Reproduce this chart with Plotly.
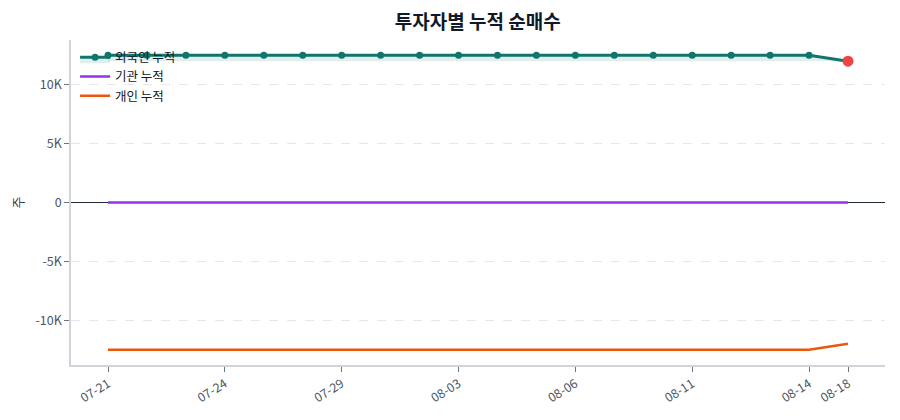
import plotly.graph_objects as go

dates = ["07-21", "07-22", "07-23", "07-24", "07-25", "07-28", "07-29", "07-30",
         "07-31", "08-03", "08-04", "08-05", "08-06", "08-07", "08-08", "08-11",
         "08-12", "08-13", "08-14", "08-18"]
foreign = [12500, 12500, 12500, 12500, 12500, 12500, 12500, 12500, 12500, 12500,
           12500, 12500, 12500, 12500, 12500, 12500, 12500, 12500, 12500, 12000]
institution = [0, 0, 0, 0, 0, 0, 0, 0, 0, 0, 0, 0, 0, 0, 0, 0, 0, 0, 0, 0]
individual = [-12500, -12500, -12500, -12500, -12500, -12500, -12500, -12500, -12500, -12500,
              -12500, -12500, -12500, -12500, -12500, -12500, -12500, -12500, -12500, -12000]
baseline = [12000] * len(dates)
x_tick_labels = ["07-21", "07-24", "07-29", "08-03", "08-06", "08-11", "08-14", "08-18"]
y_tick_vals = [-10000, -5000, 0, 5000, 10000]
y_tick_text = ["-10K", "-5K", "0", "5K", "10K"]

FONT = "Noto Sans CJK KR"
TEAL = "#0f766e"
PURPLE = "#9333ea"
ORANGE = "#ea580c"
RED = "#ef4444"

fig = go.Figure()
fig.add_trace(go.Scatter(x=dates, y=baseline, mode="lines", line=dict(width=0, color=TEAL),
                         showlegend=False, hoverinfo="skip"))
fig.add_trace(go.Scatter(x=dates, y=foreign, mode="lines+markers", name="외국인 누적",
                         line=dict(color=TEAL, width=3), marker=dict(color=TEAL, size=7),
                         fill="tonexty", fillcolor="rgba(15,118,110,0.12)"))
fig.add_trace(go.Scatter(x=dates, y=institution, mode="lines", name="기관 누적",
                         line=dict(color=PURPLE, width=2.5)))
fig.add_trace(go.Scatter(x=dates, y=individual, mode="lines", name="개인 누적",
                         line=dict(color=ORANGE, width=2.5)))
fig.add_trace(go.Scatter(x=[dates[-1]], y=[foreign[-1]], mode="markers", showlegend=False,
                         marker=dict(color=RED, size=11)))

fig.update_layout(
    width=900, height=420,
    margin=dict(l=63, r=23, t=32, b=63),
    paper_bgcolor="white", plot_bgcolor="white",
    font=dict(family=FONT, size=12, color="#374151"),
    title=dict(text="<b>투자자별 누적 순매수</b>", x=0.522, xanchor="center", y=0.967,
               yanchor="middle", font=dict(family=FONT, size=19, color="#111827"),
               automargin=False),
    legend=dict(x=0.005, y=0.992, xanchor="left", yanchor="top", bgcolor="rgba(0,0,0,0)",
                traceorder="normal",
                font=dict(family=FONT, size=12.5, color="#111827"), tracegroupgap=0),
    xaxis=dict(type="category", range=[-0.95, 19.95], tickmode="array",
               tickvals=x_tick_labels, ticktext=x_tick_labels, tickangle=-32,
               showgrid=False, showline=True, linecolor="#d1d5db", linewidth=1.5,
               ticks="outside", ticklen=5, tickcolor="#6b7280", automargin=False,
               tickfont=dict(size=12.5, color="#4b5563")),
    yaxis=dict(range=[-13800, 13800], tickvals=y_tick_vals, ticktext=y_tick_text,
               showgrid=True, gridcolor="#e5e7eb", griddash="dash", gridwidth=1,
               zeroline=True, zerolinecolor="#1f2937", zerolinewidth=1,
               showline=True, linecolor="#d1d5db", linewidth=1.5,
               ticks="outside", ticklen=5, tickcolor="#6b7280", automargin=False,
               tickfont=dict(size=12.5, color="#4b5563"),
               title=dict(text="주", font=dict(size=13, color="#374151"), standoff=11)),
)

fig.write_html("out.html")
